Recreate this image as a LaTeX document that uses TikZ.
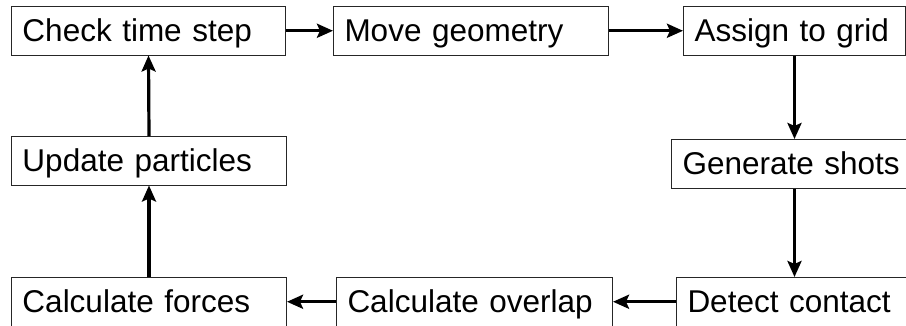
\documentclass[tikz,border=0pt]{standalone}
\usepackage{fontspec}
\setmainfont{Liberation Sans}
\usetikzlibrary{arrows.meta}
\begin{document}
\begin{tikzpicture}[x=1pt,y=-1pt,
  box/.style={draw=black!85, line width=1pt, fill=white, rectangle, anchor=north west,
    align=left, inner xsep=11pt, inner ysep=0pt, minimum height=48.5pt,
    text height=22pt, text depth=0pt, font=\fontsize{31.5pt}{36pt}\selectfont},
  flow/.style={line width=3.2pt, -{Stealth[length=16pt,width=14pt,inset=3pt]}}]
\clip (0,0) rectangle (906,325);
\fill[white] (0,0) rectangle (906,325);
\node[box, text width=252pt] (check) at (11,6) {Check time step};
\node[box, text width=253pt] (move) at (333,6) {Move geometry};
\node[box, text width=200pt] (assign) at (683,6) {Assign to grid};
\node[box, text width=253pt] (update) at (11,136) {Update particles};
\node[box, text width=253pt] (gen) at (671,139) {Generate shots};
\node[box, text width=253pt] (forces) at (11,277) {Calculate forces};
\node[box, text width=254pt] (overlap) at (336,277) {Calculate overlap};
\node[box, text width=253pt] (detect) at (676,277) {Detect contact};
\draw[flow] (check.east) -- (check.east -| move.west);
\draw[flow] (move.east) -- (move.east -| assign.west);
\draw[flow] (assign.south) -- (assign.south |- gen.north);
\draw[flow] (assign.south |- gen.south) -- (assign.south |- detect.north);
\draw[flow] (detect.west) -- (detect.west -| overlap.east);
\draw[flow] (overlap.west) -- (overlap.west -| forces.east);
\draw[flow] (forces.north) -- (update.south);
\draw[flow] (update.north) -- (check.south);
\end{tikzpicture}
\end{document}
